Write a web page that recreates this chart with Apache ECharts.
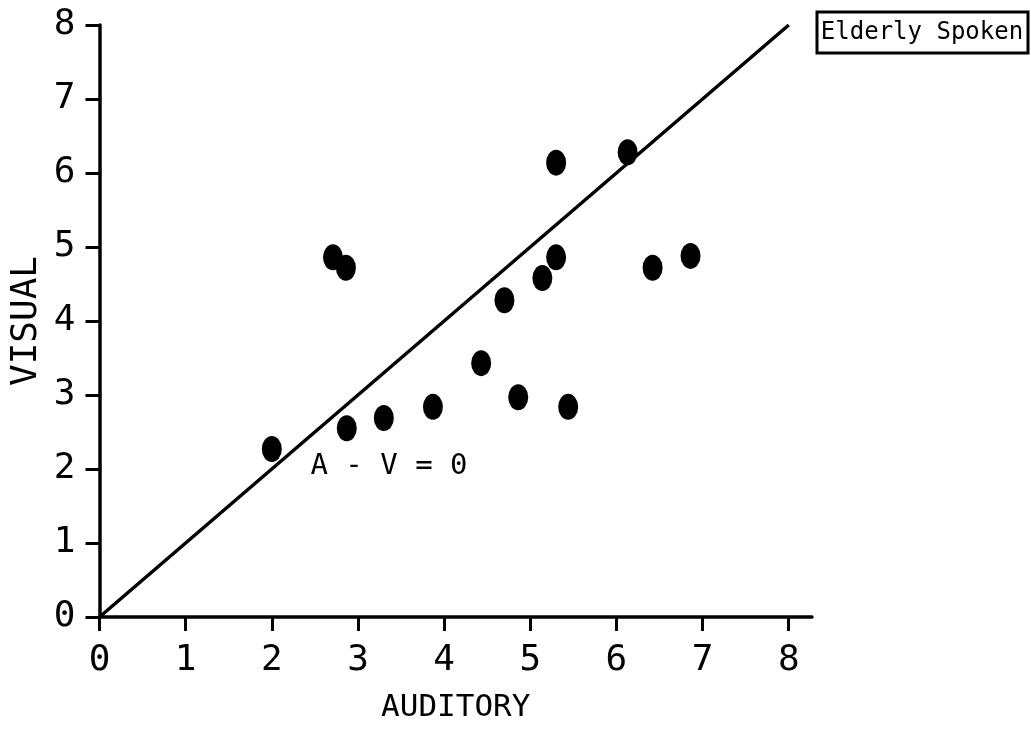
<!DOCTYPE html>
<html>
<head>
<meta charset="utf-8">
<script src="https://cdn.jsdelivr.net/npm/echarts@6/dist/echarts.min.js"></script>
<style>
  html, body { margin: 0; padding: 0; background: #fff; }
  #chart { width: 1031px; height: 731px; }
</style>
</head>
<body>
<div id="chart"></div>
<script>
// Auditory vs visual scores, elderly subjects, spoken presentation
const auditory = [2.00, 2.87, 3.30, 3.87, 4.43, 4.86, 5.44, 4.70, 5.14, 5.30, 5.30, 6.13, 6.42, 6.86, 2.71, 2.86];
const visual   = [2.27, 2.55, 2.69, 2.84, 3.43, 2.97, 2.84, 4.28, 4.58, 4.86, 6.14, 6.28, 4.72, 4.88, 4.86, 4.72];

// Identity line A - V = 0
const identityLine = [[0, 0], [8, 8]];

const axisTicks = [0, 1, 2, 3, 4, 5, 6, 7, 8];
// The horizontal axis line runs a little past its last tick
const auditoryAxisEnd = 8.27;
const panelTitle = 'Elderly Spoken';
const lineLabel = 'A - V = 0';

const FONT = 'DejaVu Sans Mono';
const INK = '#000';

const points = auditory.map((a, i) => [a, visual[i]]);

const chart = echarts.init(document.getElementById('chart'), null, { renderer: 'canvas' });

const axisCommon = {
  type: 'value',
  min: axisTicks[0],
  interval: 1,
  splitLine: { show: false },
  axisLine: { show: true, onZero: false, lineStyle: { color: INK, width: 3.5 } },
  axisTick: {
    show: true, inside: false, length: 14, customValues: axisTicks,
    lineStyle: { color: INK, width: 3 }
  },
  nameMoveOverlap: false,
  nameTextStyle: { color: INK, fontFamily: FONT, fontSize: 31 },
};

chart.setOption({
  animation: false,
  backgroundColor: '#fff',
  grid: {
    left: 99.5, right: 219, top: 25, bottom: 114,
    containLabel: false, outerBoundsMode: 'none'
  },
  xAxis: Object.assign({}, axisCommon, {
    max: auditoryAxisEnd,
    name: 'AUDITORY',
    nameLocation: 'middle',
    nameGap: 75,
    axisLabel: {
      color: INK, fontFamily: FONT, fontSize: 36, margin: 26,
      customValues: axisTicks
    }
  }),
  yAxis: Object.assign({}, axisCommon, {
    max: axisTicks[axisTicks.length - 1],
    name: 'VISUAL',
    nameLocation: 'middle',
    nameGap: 55,
    nameTextStyle: { color: INK, fontFamily: FONT, fontSize: 36 },
    axisLabel: {
      color: INK, fontFamily: FONT, fontSize: 36, margin: 24,
      customValues: axisTicks
    }
  }),
  series: [
    {
      type: 'line',
      data: identityLine,
      symbol: 'none',
      lineStyle: { color: INK, width: 3.5 },
      silent: true,
      clip: false,
      z: 2
    },
    {
      type: 'scatter',
      data: points,
      symbol: 'circle',
      symbolSize: [20, 26],
      itemStyle: { color: INK, opacity: 1 },
      clip: false,
      z: 3
    }
  ],
  graphic: [
    {
      type: 'rect',
      shape: { x: 817, y: 12, width: 211, height: 41 },
      style: { fill: '#fff', stroke: INK, lineWidth: 3 }
    },
    {
      type: 'text',
      x: 922, y: 33,
      style: {
        text: panelTitle, fill: INK, font: '24px "' + FONT + '"',
        align: 'center', verticalAlign: 'middle'
      }
    },
    {
      type: 'text',
      x: 389, y: 466,
      style: {
        text: lineLabel, fill: INK, font: '29px "' + FONT + '"',
        align: 'center', verticalAlign: 'middle'
      }
    }
  ]
});
</script>
</body>
</html>
